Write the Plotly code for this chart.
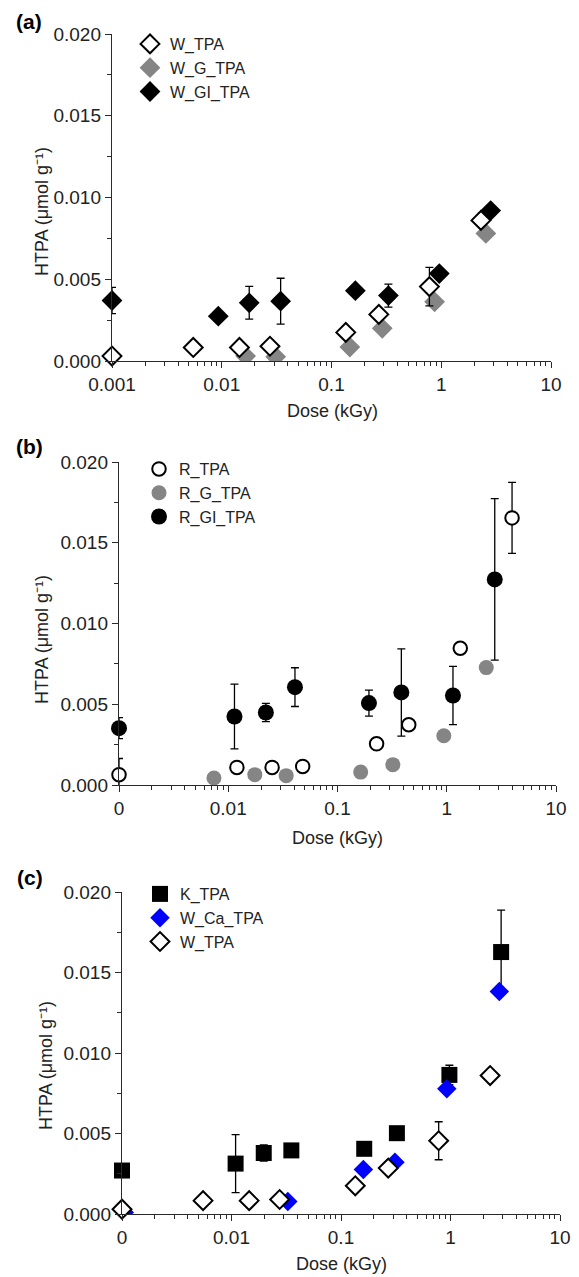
import plotly.graph_objects as go

# ---------------- data ----------------
# Panel (a)
w_tpa_x = [0.001, 0.0055, 0.0145, 0.0275, 0.135, 0.27, 0.78, 2.3]
w_tpa_y = [0.0003, 0.00083, 0.00083, 0.0009, 0.00175, 0.00285, 0.00455, 0.0086]
w_tpa_err = [0, 0, 0, 0, 0, 0, 0.00118, 0]

w_g_tpa_x = [0.0165, 0.031, 0.147, 0.29, 0.87, 2.55]
w_g_tpa_y = [0.0003, 0.00026, 0.00085, 0.002, 0.00362, 0.0078]

w_gi_tpa_x = [0.001, 0.0093, 0.0178, 0.0344, 0.165, 0.33, 0.96, 2.82]
w_gi_tpa_y = [0.0037, 0.00274, 0.00356, 0.00366, 0.0043, 0.0040, 0.00535, 0.0092]
w_gi_tpa_err = [0.0008, 0, 0.001, 0.0014, 0, 0.0007, 0, 0]

# Panel (b)
r_tpa_x = [0.001, 0.012, 0.0252, 0.048, 0.228, 0.449, 1.33, 3.96]
r_tpa_y = [0.00064, 0.00109, 0.00109, 0.00115, 0.00255, 0.00373, 0.00847, 0.01654]
r_tpa_err = [0.001, 0, 0, 0, 0, 0, 0, 0.0022]

r_g_tpa_x = [0.0074, 0.0175, 0.0339, 0.163, 0.321, 0.94, 2.3]
r_g_tpa_y = [0.00043, 0.00064, 0.00058, 0.0008, 0.00126, 0.00305, 0.00727]

r_gi_tpa_x = [0.001, 0.0114, 0.0221, 0.0408, 0.194, 0.384, 1.14, 2.75]
r_gi_tpa_y = [0.00352, 0.00424, 0.00449, 0.00606, 0.00507, 0.00573, 0.00554, 0.01273]
r_gi_tpa_err = [0.00065, 0.002, 0.00057, 0.0012, 0.0008, 0.0027, 0.0018, 0.005]

# Panel (c)
k_tpa_x = [0.001, 0.0109, 0.0197, 0.0352, 0.163, 0.324, 0.977, 2.9]
k_tpa_y = [0.0027, 0.00313, 0.00379, 0.00395, 0.00405, 0.00502, 0.00864, 0.01627]
k_tpa_err = [0, 0.0018, 0.0005, 0, 0, 0, 0.0006, 0.0026]

w_ca_tpa_x = [0.00105, 0.0327, 0.16, 0.311, 0.925, 2.79]
w_ca_tpa_y = [0.0001, 0.00078, 0.00276, 0.00321, 0.00778, 0.01382]

# axis ticks
x_tickvals = [0.001, 0.01, 0.1, 1, 10]
x_ticktext_a = ["0.001", "0.01", "0.1", "1", "10"]
x_ticktext_bc = ["0", "0.01", "0.1", "1", "10"]
y_tickvals = [0.0, 0.005, 0.010, 0.015, 0.020]

# ---------------- figure ----------------
# The page body adds an 8px margin, so the figure is drawn 8px smaller and
# all layout positions (given in window pixels) are shifted by that offset.
WIN_W, WIN_H = 579, 1277
OFF = 8
W, H = WIN_W - OFF, WIN_H - OFF

FONT = "Liberation Sans, Arial, sans-serif"
AX = "#2a2a2a"
GRAY = "#858585"
BLUE = "#0000FF"


def px_x(px):
    return (px - OFF) / W


def px_y(py):
    return (H - (py - OFF)) / H


fig = go.Figure()


def err(a, color="black"):
    return dict(type="data", array=a, visible=True, color=color, thickness=1.3, width=4)


# panel a
fig.add_trace(go.Scatter(x=w_g_tpa_x, y=w_g_tpa_y, mode="markers", name="W_G_TPA",
    marker=dict(symbol="diamond", size=16, color=GRAY), legendrank=2,
    xaxis="x", yaxis="y", legend="legend", cliponaxis=True))
fig.add_trace(go.Scatter(x=w_gi_tpa_x, y=w_gi_tpa_y, mode="markers", name="W_GI_TPA",
    marker=dict(symbol="diamond", size=16, color="black"), error_y=err(w_gi_tpa_err),
    legendrank=3, xaxis="x", yaxis="y", legend="legend", cliponaxis=False))
fig.add_trace(go.Scatter(x=w_tpa_x, y=w_tpa_y, mode="markers", name="W_TPA",
    marker=dict(symbol="diamond", size=14.5, color="white", line=dict(color="black", width=2)),
    error_y=err(w_tpa_err), legendrank=1, xaxis="x", yaxis="y", legend="legend",
    cliponaxis=False))

# panel b
fig.add_trace(go.Scatter(x=r_g_tpa_x, y=r_g_tpa_y, mode="markers", name="R_G_TPA",
    marker=dict(size=15, color=GRAY), legendrank=2,
    xaxis="x2", yaxis="y2", legend="legend2", cliponaxis=False))
fig.add_trace(go.Scatter(x=r_gi_tpa_x, y=r_gi_tpa_y, mode="markers", name="R_GI_TPA",
    marker=dict(size=16, color="black"), error_y=err(r_gi_tpa_err), legendrank=3,
    xaxis="x2", yaxis="y2", legend="legend2", cliponaxis=False))
fig.add_trace(go.Scatter(x=r_tpa_x, y=r_tpa_y, mode="markers", name="R_TPA",
    marker=dict(size=13.5, color="white", line=dict(color="black", width=2)),
    error_y=err(r_tpa_err), legendrank=1, xaxis="x2", yaxis="y2", legend="legend2",
    cliponaxis=False))

# panel c
fig.add_trace(go.Scatter(x=k_tpa_x, y=k_tpa_y, mode="markers", name="K_TPA",
    marker=dict(symbol="square", size=16, color="black"), error_y=err(k_tpa_err),
    legendrank=1, xaxis="x3", yaxis="y3", legend="legend3", cliponaxis=False))
fig.add_trace(go.Scatter(x=w_ca_tpa_x, y=w_ca_tpa_y, mode="markers", name="W_Ca_TPA",
    marker=dict(symbol="diamond", size=15, color=BLUE), legendrank=2,
    xaxis="x3", yaxis="y3", legend="legend3", cliponaxis=True))
fig.add_trace(go.Scatter(x=w_tpa_x, y=w_tpa_y, mode="markers", name="W_TPA",
    marker=dict(symbol="diamond", size=14.5, color="white", line=dict(color="black", width=2)),
    error_y=err(w_tpa_err), legendrank=3, xaxis="x3", yaxis="y3", legend="legend3",
    cliponaxis=False))


def xd(l, r):
    return [px_x(l), px_x(r)]


def yd(top, bottom):
    return [px_y(bottom), px_y(top)]


minor_log = [m * 10 ** e for e in range(-3, 1) for m in range(2, 10)]


def xaxis(dom, ticktext, anchor):
    return dict(type="log", range=[-3, 1], domain=dom, anchor=anchor,
                showline=True, linecolor=AX, linewidth=1.4, mirror=False,
                ticks="outside", ticklen=6, tickwidth=1.4, tickcolor=AX,
                tickmode="array", tickvals=x_tickvals, ticktext=ticktext,
                tickfont=dict(family=FONT, size=19, color="#222"),
                minor=dict(tickmode="array", tickvals=minor_log, ticks="outside",
                           ticklen=3.5, tickwidth=1.1, tickcolor=AX, showgrid=False),
                showgrid=False, zeroline=False, automargin=False)


def yaxis(dom, anchor):
    return dict(range=[0, 0.02], domain=dom, anchor=anchor,
                showline=True, linecolor=AX, linewidth=1.4, mirror=False,
                ticks="outside", ticklen=6, tickwidth=1.4, tickcolor=AX,
                tickmode="array", tickvals=y_tickvals, tickformat=".3f",
                tickfont=dict(family=FONT, size=19, color="#222"),
                minor=dict(dtick=0.0025, tick0=0, ticks="outside", ticklen=3.5,
                           tickwidth=1.1, tickcolor=AX, showgrid=False),
                showgrid=False, zeroline=False, automargin=False)


panels = [
    # (x_left, x_right, y_top, y_bottom) in window pixels
    (112, 551, 34, 361),
    (119, 556, 462, 785),
    (122, 560, 892, 1214),
]


def legend(left, top):
    return dict(x=px_x(left), y=px_y(top), xanchor="left", yanchor="top",
                xref="paper", yref="paper", bgcolor="rgba(0,0,0,0)",
                font=dict(family=FONT, size=16, color="#222"),
                traceorder="normal", itemsizing="trace")


fig.update_layout(
    width=W, height=H, margin=dict(l=0, r=0, t=0, b=0),
    paper_bgcolor="white", plot_bgcolor="white",
    font=dict(family=FONT, color="#222"),
    xaxis=xaxis(xd(panels[0][0], panels[0][1]), x_ticktext_a, "y"),
    yaxis=yaxis(yd(panels[0][2], panels[0][3]), "x"),
    xaxis2=xaxis(xd(panels[1][0], panels[1][1]), x_ticktext_bc, "y2"),
    yaxis2=yaxis(yd(panels[1][2], panels[1][3]), "x2"),
    xaxis3=xaxis(xd(panels[2][0], panels[2][1]), x_ticktext_bc, "y3"),
    yaxis3=yaxis(yd(panels[2][2], panels[2][3]), "x3"),
    legend=legend(130, 27),
    legend2=legend(139, 452),
    legend3=legend(140, 877),
    showlegend=True,
)


def ann(text, px, py, size=18, bold=False, angle=0):
    return dict(text=text, x=px_x(px), y=px_y(py),
                xref="paper", yref="paper", xanchor="center", yanchor="middle",
                showarrow=False, textangle=angle,
                font=dict(family=FONT, size=size, color="black" if bold else "#222",
                          weight="bold" if bold else "normal"))


ytitle = "HTPA (μmol g⁻¹)"
annotations = [
    ann("(a)", 29, 21, size=21, bold=True),
    ann("(b)", 29, 446, size=21, bold=True),
    ann("(c)", 30, 877, size=21, bold=True),
    ann(ytitle, 42, 212, angle=-90),
    ann(ytitle, 42, 640, angle=-90),
    ann(ytitle, 46, 1066, angle=-90),
    ann("Dose (kGy)", 332, 411),
    ann("Dose (kGy)", 337, 838),
    ann("Dose (kGy)", 341, 1264),
]
fig.update_layout(annotations=annotations)

fig.write_html("out.html")
